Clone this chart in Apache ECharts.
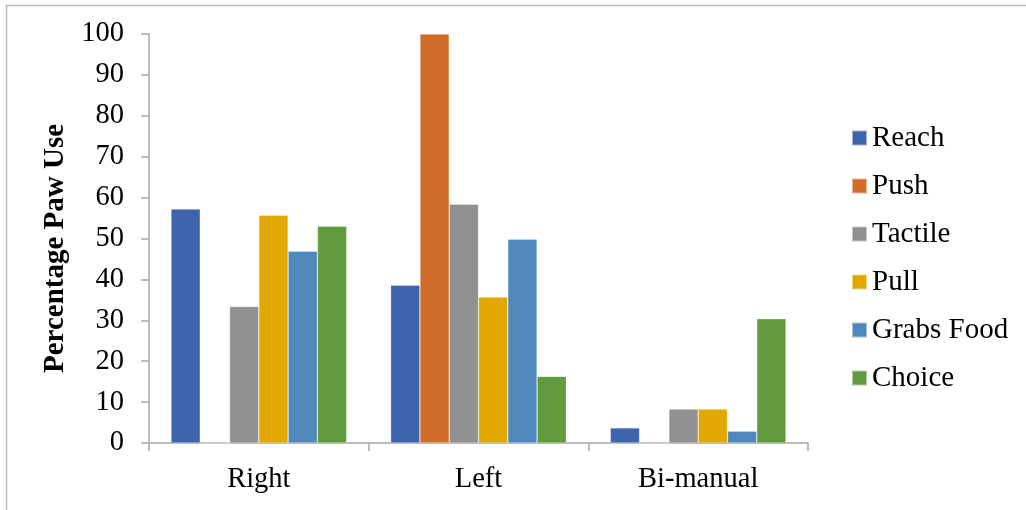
<!DOCTYPE html>
<html>
<head>
    <meta charset="UTF-8"/>
    <title>Percentage Paw Use</title>
    <script type="text/javascript" src="https://cdn.jsdelivr.net/npm/echarts@6/dist/echarts.min.js"></script>
    <style>
        html, body { margin: 0; padding: 0; background: #fff; }
    </style>
</head>
<body>

<div id="main" style="width: 1026px;height:510px;"></div>

<script type="text/javascript">
    // data
    var categories = ['Right', 'Left', 'Bi-manual'];
    var reach = [57.2, 38.6, 3.7];
    var push = [0, 100, 0];
    var tactile = [33.4, 58.4, 8.3];
    var pull = [55.7, 35.7, 8.3];
    var grabsFood = [46.9, 49.8, 2.9];
    var choice = [53.0, 16.3, 30.4];
    var yTicks = [0, 10, 20, 30, 40, 50, 60, 70, 80, 90, 100];

    var myChart = echarts.init(document.getElementById('main'));
    var font = 'Liberation Serif, Times New Roman, serif';
    var axisGrey = '#a6a6a6';

    function bar(name, data, color) {
        return {
            name: name,
            type: 'bar',
            data: data,
            barGap: '0%',
            barCategoryGap: '20%',
            itemStyle: { color: color, borderColor: 'rgba(255,255,255,0.5)', borderWidth: 0.6 }
        };
    }

    var option = {
        animation: false,
        textStyle: { fontFamily: font },
        graphic: [
            { type: 'line', shape: { x1: 6, y1: 5.5, x2: 1026, y2: 5.5 }, style: { stroke: '#bcbcbc', lineWidth: 1.5 } },
            { type: 'line', shape: { x1: 6.5, y1: 5, x2: 6.5, y2: 510 }, style: { stroke: '#bcbcbc', lineWidth: 1.5 } }
        ],
        grid: { left: 149, right: 218, top: 34, bottom: 67 },
        legend: {
            orient: 'vertical',
            left: 851,
            top: 123,
            padding: 0,
            itemWidth: 15,
            itemHeight: 15,
            itemGap: 18,
            icon: 'rect',
            textStyle: { fontFamily: font, fontSize: 29, lineHeight: 30, color: '#000' },
            data: ['Reach', 'Push', 'Tactile', 'Pull', 'Grabs Food', 'Choice']
        },
        xAxis: {
            type: 'category',
            data: categories,
            axisLine: { lineStyle: { color: axisGrey, width: 1.5 } },
            axisTick: { show: true, length: 8, lineStyle: { color: axisGrey, width: 1.5 } },
            axisLabel: { fontFamily: font, fontSize: 28.5, color: '#000', margin: 22 }
        },
        yAxis: {
            type: 'value',
            min: yTicks[0],
            max: yTicks[yTicks.length - 1],
            interval: 10,
            name: 'Percentage Paw Use',
            nameLocation: 'middle',
            nameRotate: 90,
            nameGap: 78,
            nameTextStyle: { fontFamily: font, fontSize: 29, fontWeight: 'bold', color: '#000', padding: [0, 20, 0, 0] },
            splitLine: { show: false },
            axisLine: { show: true, lineStyle: { color: axisGrey, width: 1.5 } },
            axisTick: { show: true, length: 8, lineStyle: { color: axisGrey, width: 1.5 } },
            axisLabel: { fontFamily: font, fontSize: 28.5, color: '#000', margin: 25 }
        },
        series: [
            bar('Reach', reach, '#3d64ad'),
            bar('Push', push, '#d16d2a'),
            bar('Tactile', tactile, '#919191'),
            bar('Pull', pull, '#e0a800'),
            bar('Grabs Food', grabsFood, '#4f89bc'),
            bar('Choice', choice, '#629a3e')
        ]
    };
    myChart.setOption(option);
</script>
</body>
</html>
